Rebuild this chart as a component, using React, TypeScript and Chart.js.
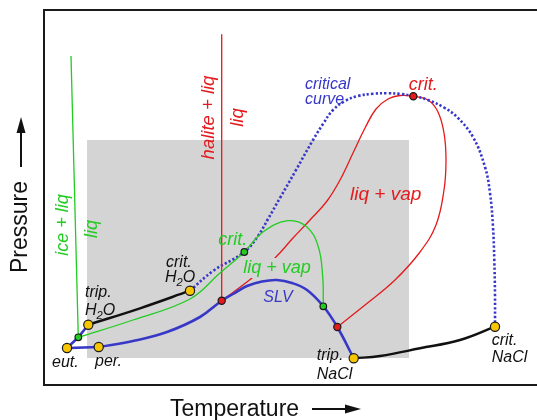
import React, { useEffect, useRef } from "react";
import { Chart, registerables } from "chart.js";

Chart.register(...registerables);

// ---------- data (schematic, arbitrary temperature / pressure units) ----------
const T_MIN = 0;
const T_MAX = 493;
const P_MIN = 0;
const P_MAX = 375;

// shaded P-T window
const shadedFieldT = [43, 365];
const shadedFieldTopP = 245;
const shadedFieldBottomP = 27;

// phase boundaries [T, P]
const iceLiqCurve = [[27, 329], [34.3, 47.7]];
const haliteLiqCurve = [[177.7, 350.7], [177.7, 84.3]];
const eutecticBranch = [[54.7, 38], [23, 37], [34.3, 47.7], [44.3, 60.3]];
const slvCurve = [
  [54.7, 38], [89, 44], [123, 53], [156, 68], [177.7, 84.3], [189, 91],
  [203, 99], [218, 103.5], [233, 105], [248, 102], [263, 95], [279.3, 78.7],
  [293.3, 58], [309.7, 26.7],
];
const h2oBoilingCurve = [[44.3, 60.3], [96, 76.7], [146, 94.3]];
const naclBoilingCurve = [[309.7, 26.7], [336, 29], [376, 36.7], [416, 45], [451, 58.3]];
const waterLiqVapCurve = [
  [34.3, 47.7], [89, 65], [146, 86], [176, 112], [200.3, 133], [219.3, 153.3],
  [244, 164.3], [262.7, 158.3], [274.3, 138.3], [278.7, 108.3], [279.3, 78.7],
];
const brineLiqVapCurve = [
  [177.7, 84.3], [208, 107], [231, 127], [249, 147], [266, 165], [283, 184],
  [296, 205], [309, 232], [321, 257], [332, 276], [344, 286], [356, 289.5],
  [369.3, 288.7], [384, 285], [394, 273], [400, 252], [402, 225], [400, 195],
  [392, 160], [376, 133], [351, 105], [321, 80], [293.3, 58],
];
const criticalCurve = [
  [146, 94.3], [169, 114], [200.3, 133], [214, 149], [224, 166], [236, 187],
  [252, 215], [269, 245], [279, 261], [289, 275], [301, 284], [314, 289],
  [329, 291.2], [344, 291.8], [357, 291], [369.3, 289], [384, 285], [400, 277.5],
  [413, 268], [429, 248], [441, 218], [446, 192], [449, 158], [450.3, 125],
  [451, 90], [451, 58.3],
];

// invariant / special points
const endMemberPoints = [[23, 37], [54.7, 38], [44.3, 60.3], [146, 94.3], [309.7, 26.7], [451, 58.3]];
const waterSystemPoints = [[34.3, 47.7], [200.3, 133], [279.3, 78.7]];
const brineSystemPoints = [[177.7, 84.3], [293.3, 58], [369.3, 288.7]];

// text labels: [text, T, P]
const blackLabels = [
  ["crit.", 122, 118.5], ["H₂O", 121, 103],
  ["trip.", 41, 88.5], ["H₂O", 41, 70.5],
  ["eut.", 8, 18], ["per.", 51, 19.5],
  ["trip.", 272.7, 25], ["NaCl", 272.7, 6],
  ["crit.", 447.7, 40], ["NaCl", 447.7, 23.5],
];
const blueLabels = [["critical", 261, 296], ["curve", 261, 281], ["SLV", 219.3, 83.3]];
const redLabels = [["crit.", 364.7, 295], ["liq + vap", 306, 185]];
const greenLabels = [["crit.", 174.3, 140], ["liq + vap", 199.3, 112]];
const rotatedGreenLabels = [["ice + liq", 19.3, 160], ["liq", 47.5, 156]];
const rotatedRedLabels = [["halite + liq", 164.5, 267.5], ["liq", 193.5, 267.5]];

const xTitle = "Temperature";
const yTitle = "Pressure";

// ---------- styles ----------
const FONT = "'Liberation Sans', Arial, Helvetica, sans-serif";
const GREEN = "#22cc22";
const RED = "#e41a1c";
const BLUE = "#3838c8";
const BLACK = "#111111";
const YELLOW = "#f7c600";
const GRAY = "#d4d4d4";

const xy = (arr: number[][]) => arr.map(([x, y]) => ({ x, y }));

function drawRich(
  ctx: CanvasRenderingContext2D,
  text: string,
  x: number,
  y: number,
  size: number,
  style: string,
  color: string,
  align: "left" | "center"
) {
  const parts: { s: string; sub: boolean }[] = [];
  for (const ch of text) {
    const code = ch.codePointAt(0) as number;
    const sub = code >= 0x2080 && code <= 0x2089;
    const c = sub ? String.fromCharCode(48 + code - 0x2080) : ch;
    const last = parts[parts.length - 1];
    if (last && last.sub === sub) last.s += c;
    else parts.push({ s: c, sub });
  }
  const fontFor = (sub: boolean) => `${style} ${sub ? size * 0.7 : size}px ${FONT}`;
  const widths = parts.map((p) => {
    ctx.font = fontFor(p.sub);
    return ctx.measureText(p.s).width;
  });
  const total = widths.reduce((a, b) => a + b, 0);
  let cx = align === "center" ? x - total / 2 : x;
  ctx.fillStyle = color;
  ctx.textAlign = "left";
  parts.forEach((p, i) => {
    ctx.font = fontFor(p.sub);
    ctx.fillText(p.s, cx, y + (p.sub ? size * 0.25 : 0));
    cx += widths[i];
  });
}

export default function App() {
  const ref = useRef<HTMLCanvasElement | null>(null);

  useEffect(() => {
    const canvas = ref.current;
    if (!canvas) return;

    const framePlugin = {
      id: "frame",
      beforeDatasetsDraw(chart: any) {
        const { ctx, chartArea: a } = chart;
        ctx.save();
        ctx.strokeStyle = "#1a1a1a";
        ctx.lineWidth = 2;
        ctx.beginPath();
        ctx.moveTo(chart.width, a.top);
        ctx.lineTo(a.left, a.top);
        ctx.lineTo(a.left, a.bottom);
        ctx.lineTo(chart.width, a.bottom);
        ctx.stroke();
        ctx.restore();
      },
    };

    const maskPlugin = {
      id: "labelMask",
      afterDatasetDraw(chart: any, args: any) {
        if (chart.data.datasets[args.index].label !== "brineLV") return;
        const { ctx, scales } = chart;
        ctx.save();
        ctx.font = `italic 18px ${FONT}`;
        greenLabels
          .filter((l) => l[0] === "liq + vap")
          .forEach(([t, T, P]) => {
            const x = scales.x.getPixelForValue(T as number);
            const y = scales.y.getPixelForValue(P as number);
            const w = ctx.measureText(t as string).width;
            ctx.fillStyle = GRAY;
            ctx.fillRect(x - 3, y - 15, w + 6, 20);
          });
        ctx.restore();
      },
    };

    const labelPlugin = {
      id: "labels",
      afterDatasetsDraw(chart: any) {
        const { ctx, scales } = chart;
        const px = (T: number) => scales.x.getPixelForValue(T);
        const py = (P: number) => scales.y.getPixelForValue(P);
        ctx.save();
        ctx.textBaseline = "alphabetic";
        blackLabels.forEach(([t, T, P]) =>
          drawRich(ctx, t as string, px(T as number), py(P as number), 16, "italic", BLACK, "left")
        );
        blueLabels.forEach(([t, T, P]) =>
          drawRich(ctx, t as string, px(T as number), py(P as number), 16, "italic", BLUE, "left")
        );
        redLabels.forEach(([t, T, P], i) =>
          drawRich(ctx, t as string, px(T as number), py(P as number), i === 0 ? 18 : 19, "italic", RED, "left")
        );
        greenLabels.forEach(([t, T, P]) =>
          drawRich(ctx, t as string, px(T as number), py(P as number), 18, "italic", GREEN, "left")
        );
        const rot = (list: any[], color: string, size: number) =>
          list.forEach(([t, T, P]) => {
            ctx.save();
            ctx.translate(px(T), py(P));
            ctx.rotate(-Math.PI / 2);
            ctx.textBaseline = "middle";
            ctx.textAlign = "center";
            ctx.font = `italic ${size}px ${FONT}`;
            ctx.fillStyle = color;
            ctx.fillText(t, 0, 0);
            ctx.restore();
          });
        rot(rotatedGreenLabels, GREEN, 18);
        rot(rotatedRedLabels, RED, 18.5);
        ctx.restore();
      },
      afterDraw(chart: any) {
        const { ctx } = chart;
        ctx.save();
        ctx.fillStyle = BLACK;
        ctx.strokeStyle = BLACK;
        ctx.font = `23px ${FONT}`;
        ctx.textBaseline = "alphabetic";
        ctx.textAlign = "left";
        // x title + arrow
        ctx.fillText(xTitle, 170, 416);
        ctx.lineWidth = 2;
        ctx.beginPath();
        ctx.moveTo(312, 409);
        ctx.lineTo(348, 409);
        ctx.stroke();
        ctx.beginPath();
        ctx.moveTo(361, 409);
        ctx.lineTo(345, 404.5);
        ctx.lineTo(345, 413.5);
        ctx.closePath();
        ctx.fill();
        // y title + arrow
        ctx.save();
        ctx.translate(27, 273);
        ctx.rotate(-Math.PI / 2);
        ctx.fillText(yTitle, 0, 0);
        ctx.restore();
        ctx.beginPath();
        ctx.moveTo(21, 167);
        ctx.lineTo(21, 131);
        ctx.stroke();
        ctx.beginPath();
        ctx.moveTo(21, 117);
        ctx.lineTo(16.5, 133);
        ctx.lineTo(25.5, 133);
        ctx.closePath();
        ctx.fill();
        ctx.restore();
      },
    };

    const line = (label: string, data: number[][], color: string, width: number, tension: number, order: number, extra: any = {}) => ({
      label,
      data: xy(data),
      showLine: true,
      borderColor: color,
      borderWidth: width,
      tension,
      pointRadius: 0,
      fill: false,
      order,
      ...extra,
    });

    const markers = (label: string, data: number[][], color: string, radius: number) => ({
      label,
      data: xy(data),
      showLine: false,
      pointRadius: radius,
      pointBackgroundColor: color,
      pointBorderColor: "#1a1a1a",
      pointBorderWidth: 1.2,
      order: 0,
    });

    const chart = new Chart(canvas, {
      type: "scatter",
      data: {
        datasets: [
          {
            label: "field",
            data: xy(shadedFieldT.map((t) => [t, shadedFieldTopP])),
            showLine: true,
            borderWidth: 0,
            borderColor: "rgba(0,0,0,0)",
            backgroundColor: GRAY,
            pointRadius: 0,
            tension: 0,
            fill: { value: shadedFieldBottomP },
            order: 20,
          } as any,
          line("brineLV", brineLiqVapCurve, RED, 1.3, 0.4, 10),
          line("critical", criticalCurve, BLUE, 2.6, 0.4, 9, { borderDash: [2.3, 2.1] }),
          line("waterLV", waterLiqVapCurve, GREEN, 1.3, 0.4, 8),
          line("iceLiq", iceLiqCurve, GREEN, 1.3, 0, 8),
          line("haliteLiq", haliteLiqCurve, RED, 1.3, 0, 8),
          line("slv", slvCurve, BLUE, 2.6, 0.4, 7),
          line("eutectic", eutecticBranch, BLUE, 2.6, 0, 7),
          line("h2oBoil", h2oBoilingCurve, BLACK, 2.4, 0.4, 7),
          line("naclBoil", naclBoilingCurve, BLACK, 2.4, 0.4, 7),
          markers("endMembers", endMemberPoints, YELLOW, 4.6),
          markers("water", waterSystemPoints, GREEN, 3.3),
          markers("brine", brineSystemPoints, RED, 3.6),
        ],
      },
      options: {
        animation: false,
        responsive: false,
        devicePixelRatio: 1,
        events: [],
        layout: { autoPadding: false, padding: { left: 44, top: 10, right: 0, bottom: 35 } },
        scales: {
          x: { type: "linear", min: T_MIN, max: T_MAX, display: false },
          y: { type: "linear", min: P_MIN, max: P_MAX, display: false },
        },
        plugins: {
          legend: { display: false },
          tooltip: { enabled: false },
        },
      } as any,
      plugins: [framePlugin, maskPlugin, labelPlugin],
    });

    return () => chart.destroy();
  }, []);

  return (
    <div style={{ position: "fixed", left: 0, top: 0, width: 537, height: 420, background: "#fff" }}>
      <canvas ref={ref} width={537} height={420} style={{ width: 537, height: 420, display: "block" }} />
    </div>
  );
}
